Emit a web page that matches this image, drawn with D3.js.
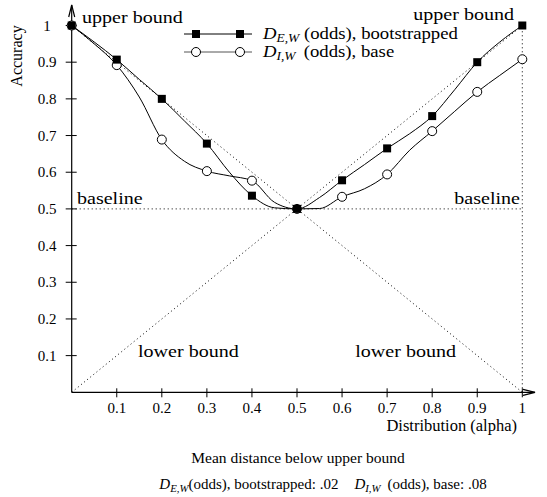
<!DOCTYPE html>
<html>
<head>
<meta charset="utf-8">
<script src="https://cdn.jsdelivr.net/npm/d3@7/dist/d3.min.js"></script>
<style>
  html, body { margin: 0; padding: 0; background: #fff; }
  svg, svg text { font-family: "Liberation Serif", "Times New Roman", Times, serif; fill: #000; }
</style>
</head>
<body>
<svg id="chart" width="547" height="497" font-family="Liberation Serif, Times New Roman, serif"></svg>
<script>
// ---- data ----
const alphaGrid = [0, 0.05, 0.1, 0.15, 0.2, 0.25, 0.3, 0.35, 0.4, 0.45, 0.5,
                   0.55, 0.6, 0.65, 0.7, 0.75, 0.8, 0.85, 0.9, 0.95, 1.0];
const bootstrapped = [1.0, 0.955, 0.907, 0.853, 0.80, 0.740, 0.678, 0.600, 0.536, 0.503, 0.5,
                      0.531, 0.578, 0.621, 0.665, 0.705, 0.753, 0.825, 0.90, 0.955, 1.0];
const base = [1.0, 0.950, 0.892, 0.805, 0.689, 0.630, 0.603, 0.590, 0.577, 0.518, 0.5,
              0.501, 0.533, 0.555, 0.594, 0.660, 0.712, 0.766, 0.819, 0.864, 0.908];
const markerAlpha = [0, 0.1, 0.2, 0.3, 0.4, 0.5, 0.6, 0.7, 0.8, 0.9, 1.0];
const yTicks = [0.1, 0.2, 0.3, 0.4, 0.5, 0.6, 0.7, 0.8, 0.9, 1];
const yTickLabels = ["0.1", "0.2", "0.3", "0.4", "0.5", "0.6", "0.7", "0.8", "0.9", "1"];
const xTicks = [0.1, 0.2, 0.3, 0.4, 0.5, 0.6, 0.7, 0.8, 0.9, 1];
const xTickLabels = ["0.1", "0.2", "0.3", "0.4", "0.5", "0.6", "0.7", "0.8", "0.9", "1"];
const upperBound = [[0, 1], [0.5, 0.5], [1, 1]];
const lowerBound = [[0, 0], [0.5, 0.5], [1, 0]];
const baselineLine = [[0, 0.5], [1, 0.5]];
const rightEdge = [[1, 0], [1, 1]];

// ---- drawing ----
const FONT = "Liberation Serif, Times New Roman, serif";
const svg = d3.select("#chart");
svg.append("rect").attr("width", 547).attr("height", 497).attr("fill", "#fff");

const x = d3.scaleLinear().domain([0, 1]).range([71.7, 522.3]);
const y = d3.scaleLinear().domain([0, 1]).range([392.3, 25.5]);

const FS_TICK = 15, FS_ANN = 17, FS_LEG = 16, FS_TITLE = 15.5;

// text placed at (x,y) with an optional horizontal stretch
const stext = (parent, xx, yy, sx = 1) => parent.append("text")
  .attr("font-family", FONT)
  .attr("transform", `translate(${xx},${yy}) scale(${sx},1)`);

// dotted reference lines
const straight = d3.line().x(d => x(d[0])).y(d => y(d[1]));
[upperBound, lowerBound, baselineLine, rightEdge].forEach(pts => {
  svg.append("path").attr("d", straight(pts))
    .attr("fill", "none").attr("stroke", "#000").attr("stroke-width", 1)
    .attr("stroke-dasharray", "1,3");
});

// axes
const x0 = x(0), y0 = y(0);
svg.append("line").attr("x1", x0).attr("y1", y0).attr("x2", x0).attr("y2", 5)
  .attr("stroke", "#000").attr("stroke-width", 1.2);
svg.append("path").attr("d", `M${x0 - 3},${17} L${x0},${5} L${x0 + 3},${17}`)
  .attr("fill", "none").attr("stroke", "#000").attr("stroke-width", 1.2);
svg.append("line").attr("x1", x0).attr("y1", y0).attr("x2", 535).attr("y2", y0)
  .attr("stroke", "#000").attr("stroke-width", 1.2);
svg.append("path").attr("d", `M${523},${y0 - 3} L${535},${y0} L${523},${y0 + 3}`)
  .attr("fill", "none").attr("stroke", "#000").attr("stroke-width", 1.2);

// y ticks
const gy = svg.append("g");
gy.selectAll("line").data(yTicks).join("line")
  .attr("x1", x0 - 6).attr("x2", x0 + 5)
  .attr("y1", d => y(d)).attr("y2", d => y(d))
  .attr("stroke", "#000").attr("stroke-width", 1);
gy.selectAll("text").data(yTicks).join("text")
  .attr("font-family", FONT)
  .attr("x", 47).attr("y", d => y(d) + 5)
  .attr("text-anchor", "middle").attr("font-size", FS_TICK)
  .text((d, i) => yTickLabels[i]);

// x ticks
const gx = svg.append("g");
gx.selectAll("line").data(xTicks).join("line")
  .attr("x1", d => x(d)).attr("x2", d => x(d))
  .attr("y1", y0 - 4).attr("y2", y0 + 5)
  .attr("stroke", "#000").attr("stroke-width", 1);
gx.selectAll("text").data(xTicks).join("text")
  .attr("font-family", FONT)
  .attr("x", d => x(d)).attr("y", 413)
  .attr("text-anchor", "middle").attr("font-size", FS_TICK)
  .text((d, i) => xTickLabels[i]);

// data curves
const curve = d3.line().x((d, i) => x(alphaGrid[i])).y(d => y(d)).curve(d3.curveMonotoneX);
svg.append("path").attr("d", curve(base))
  .attr("fill", "none").attr("stroke", "#000").attr("stroke-width", 1);
svg.append("path").attr("d", curve(bootstrapped))
  .attr("fill", "none").attr("stroke", "#000").attr("stroke-width", 1);

const valueAt = (arr, a) => arr[alphaGrid.findIndex(g => Math.abs(g - a) < 1e-9)];

svg.append("g").selectAll("circle").data(markerAlpha).join("circle")
  .attr("cx", d => x(d)).attr("cy", d => y(valueAt(base, d)))
  .attr("r", 4.5).attr("fill", "#fff").attr("stroke", "#000").attr("stroke-width", 1);
svg.append("g").selectAll("rect").data(markerAlpha).join("rect")
  .attr("x", d => x(d) - 4).attr("y", d => y(valueAt(bootstrapped, d)) - 4)
  .attr("width", 8).attr("height", 8).attr("fill", "#000");

// annotations
const SX_ANN = 1.18;
const ann = (t, xx, yy, anchor) => stext(svg, xx, yy, SX_ANN)
  .attr("text-anchor", anchor).attr("font-size", FS_ANN).text(t);
ann("upper bound", 82, 23, "start");
ann("upper bound", 514, 20, "end");
ann("baseline", 77, 204, "start");
ann("baseline", 520, 204, "end");
ann("lower bound", 138, 357, "start");
ann("lower bound", 456, 357, "end");

// legend
const leg = svg.append("g");
const legRows = [
  { y: 34, sub: "E,W", rest: "(odds), bootstrapped", gap: 4, kind: "square" },
  { y: 52, sub: "I,W", rest: "(odds), base", gap: 7, kind: "circle" }
];
legRows.forEach(r => {
  leg.append("line").attr("x1", 184).attr("x2", 252).attr("y1", r.y).attr("y2", r.y)
    .attr("stroke", r.kind === "square" ? "#000" : "#555").attr("stroke-width", 1);
  [196, 240].forEach(mx => {
    if (r.kind === "square") {
      leg.append("rect").attr("x", mx - 4).attr("y", r.y - 4).attr("width", 8).attr("height", 8).attr("fill", "#000");
    } else {
      leg.append("circle").attr("cx", mx).attr("cy", r.y).attr("r", 4.5)
        .attr("fill", "#fff").attr("stroke", "#000");
    }
  });
  const t = stext(leg, 263, r.y + 5, 1.17).attr("font-size", FS_LEG);
  t.append("tspan").attr("font-style", "italic").text("D");
  t.append("tspan").attr("font-style", "italic").attr("font-size", FS_LEG * 0.72)
    .attr("dy", 3).text(r.sub);
  t.append("tspan").attr("dy", -3).attr("dx", r.gap).text(r.rest);
});

// axis titles
stext(svg, 22, 56).attr("transform", "translate(22,56) rotate(-90)")
  .attr("text-anchor", "middle").attr("font-size", 16).text("Accuracy");
stext(svg, 517, 431).attr("text-anchor", "end")
  .attr("font-size", 16.5).text("Distribution (alpha)");

// bottom summary
stext(svg, 298, 463).attr("text-anchor", "middle")
  .attr("font-size", FS_TITLE).text("Mean distance below upper bound");
const bl = stext(svg, 323, 489).attr("text-anchor", "middle")
  .attr("font-size", 15);
bl.append("tspan").attr("font-style", "italic").text("D");
bl.append("tspan").attr("font-style", "italic").attr("font-size", 15 * 0.72).attr("dy", 3).text("E,W");
bl.append("tspan").attr("dy", -3).text("(odds), bootstrapped: .02");
bl.append("tspan").attr("font-style", "italic").attr("dx", 16).text("D");
bl.append("tspan").attr("font-style", "italic").attr("font-size", 15 * 0.72).attr("dy", 3).text("I,W");
bl.append("tspan").attr("dy", -3).attr("dx", 7).text("(odds), base: .08");
</script>
</body>
</html>
